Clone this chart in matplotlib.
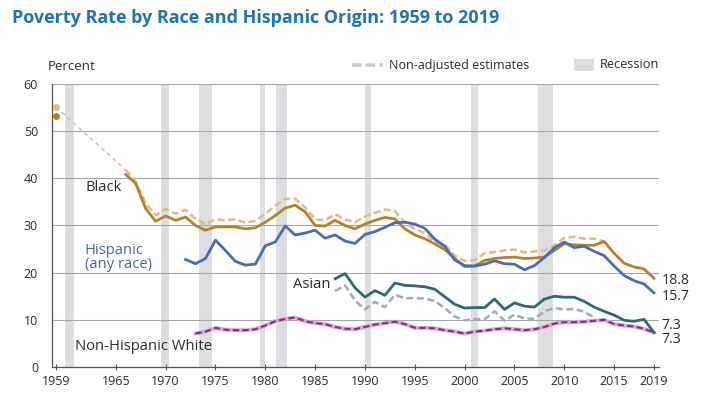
import matplotlib
matplotlib.use("Agg")
import matplotlib.pyplot as plt
from matplotlib.lines import Line2D
from matplotlib.patches import Rectangle

plt.rcParams['font.family'] = ['Open Sans', 'DejaVu Sans']

# --- data ---
black_years = list(range(1966, 2020))
black_adj = [40.8, 38.9, 33.6, 30.9, 32.0, 31.1, 31.8, 30.0, 29.0, 29.7,
             29.7, 29.7, 29.3, 29.5, 30.7, 32.1, 33.7, 34.3, 32.9, 30.0,
             29.9, 31.1, 30.0, 29.3, 30.3, 31.1, 31.7, 31.4, 29.3, 28.0,
             27.2, 26.1, 24.9, 23.0, 21.3, 21.4, 22.6, 23.0, 23.2, 23.3,
             23.0, 23.1, 23.3, 24.7, 26.1, 25.9, 25.8, 25.8, 26.6, 24.1,
             22.0, 21.2, 20.8, 18.8]
black_raw_years = list(range(1966, 2015))
black_raw = [41.8, 39.3, 34.7, 32.2, 33.5, 32.5, 33.3, 31.4, 30.3, 31.3,
             31.1, 31.3, 30.6, 31.0, 32.5, 34.2, 35.6, 35.7, 33.8, 31.3,
             31.1, 32.4, 31.3, 30.7, 31.9, 32.7, 33.4, 33.1, 30.6, 29.3,
             28.4, 26.5, 26.1, 23.6, 22.5, 22.7, 24.1, 24.4, 24.7, 24.9,
             24.3, 24.5, 24.7, 25.8, 27.4, 27.6, 27.2, 27.2, 26.6]
black_1959_adj = 53.3
black_1959_raw = 55.1

hisp_years = list(range(1972, 2020))
hisp = [22.8, 21.9, 23.0, 26.9, 24.7, 22.4, 21.6, 21.8, 25.7, 26.5,
        29.9, 28.0, 28.4, 29.0, 27.3, 28.0, 26.7, 26.2, 28.1, 28.7,
        29.6, 30.6, 30.7, 30.3, 29.4, 27.1, 25.6, 22.7, 21.5, 21.4,
        21.8, 22.5, 21.9, 21.8, 20.6, 21.5, 23.2, 25.3, 26.5, 25.3,
        25.6, 24.5, 23.6, 21.4, 19.4, 18.3, 17.6, 15.7]

asian_years = list(range(1987, 2020))
asian_adj = [18.7, 19.8, 16.8, 14.8, 16.2, 15.2, 17.8, 17.3, 17.2, 17.0,
             16.5, 14.9, 13.3, 12.5, 12.6, 12.6, 14.4, 12.2, 13.6, 12.9,
             12.7, 14.4, 15.0, 14.8, 14.8, 13.9, 12.7, 11.8, 11.0, 9.9,
             9.7, 10.1, 7.3]
asian_raw_years = list(range(1987, 2014))
asian_raw = [16.1, 17.3, 14.1, 12.2, 13.8, 12.7, 15.3, 14.6, 14.6, 14.5,
             14.0, 12.5, 10.7, 9.9, 10.2, 10.1, 11.8, 9.8, 11.1, 10.3,
             10.2, 11.8, 12.5, 12.2, 12.3, 11.7, 10.5]

white_years = list(range(1973, 2020))
white = [7.1, 7.5, 8.3, 7.9, 7.8, 7.8, 8.0, 8.8, 9.7, 10.2,
         10.5, 9.7, 9.3, 9.1, 8.5, 8.1, 8.0, 8.5, 9.0, 9.3,
         9.6, 9.1, 8.3, 8.3, 8.2, 7.8, 7.5, 7.1, 7.5, 7.7,
         8.0, 8.2, 8.0, 7.8, 8.0, 8.5, 9.2, 9.5, 9.5, 9.6,
         9.8, 10.0, 9.1, 8.8, 8.6, 8.1, 7.3]

recessions = [(1959.9, 1960.8), (1969.5, 1970.3), (1973.3, 1974.7),
              (1979.5, 1979.95), (1981.1, 1982.2), (1990.0, 1990.6),
              (2000.6, 2001.3), (2007.4, 2008.9)]

end_labels = ["18.8", "15.7", "7.3", "7.3"]
end_label_y = [18.3, 15.0, 8.8, 5.8]

# --- colours ---
c_black, c_black_l = "#b5822c", "#dfbb86"
c_hisp = "#4a6bbd"
c_asian, c_asian_l = "#2d6b74", "#9eadba"
c_white, c_white_l = "#86307f", "#d9a6d6"
c_text = "#2b2b2b"

fig = plt.figure(figsize=(7.07, 3.95), dpi=100)
ax = fig.add_axes([52 / 707, 28 / 395, 607 / 707, 283 / 395])

for a, b in recessions:
    ax.axvspan(a, b, color="#dcdee1", lw=0, zorder=0)

ax.set_xlim(1958.6, 2019.5)
ax.set_ylim(0, 60)
ax.set_yticks(range(0, 61, 10))
ax.grid(axis="y", color="#a8a8a8", lw=0.8, zorder=1)
ax.set_axisbelow(True)
ax.set_xticks([1959, 1965, 1970, 1975, 1980, 1985, 1990, 1995,
               2000, 2005, 2010, 2015, 2019])
ax.tick_params(axis="y", length=0, pad=10, labelsize=9, labelcolor=c_text)
ax.tick_params(axis="x", direction="inout", length=5, width=0.8,
               color="#555555", pad=3, labelsize=9, labelcolor=c_text)
for s in ["top", "right"]:
    ax.spines[s].set_visible(False)
for s in ["left", "bottom"]:
    ax.spines[s].set_color("#555555")
    ax.spines[s].set_linewidth(0.9)

dash = (2.8, 1.4)
# gap in Black series
ax.plot([1959, 1966], [black_1959_raw, black_raw[0]], color="#b9c0c8",
        lw=1.0, ls=(0, (3, 2.5)), zorder=2)
ax.plot([1959], [black_1959_raw], "o", color=c_black_l, ms=4, zorder=3)
ax.plot([1959], [black_1959_adj], "o", color=c_black, ms=4, zorder=3)

ax.plot(black_raw_years, black_raw, color=c_black_l, lw=1.8,
        dashes=dash, zorder=3)
ax.plot(black_years, black_adj, color=c_black, lw=2.0, zorder=4)

ax.plot(hisp_years, hisp, color=c_hisp, lw=2.0, zorder=4)

ax.plot(asian_raw_years, asian_raw, color=c_asian_l, lw=1.8,
        dashes=dash, zorder=3)
ax.plot(asian_years, asian_adj, color=c_asian, lw=2.0, zorder=4)

ax.plot(white_years, white, color=c_white_l, lw=2.8, zorder=3)
ax.plot(white_years, white, color=c_white, lw=1.5, dashes=(3, 1.6), zorder=4)

# series labels
lab_fs = 10.6
ax.text(1962.0, 38.0, "Black", fontsize=lab_fs, color=c_text, va="center")
ax.text(1961.9, 23.2, "Hispanic\n(any race)", fontsize=lab_fs, color="#4a6591",
        va="center", linespacing=0.95)
ax.text(1982.8, 17.4, "Asian", fontsize=lab_fs, color=c_text, va="center")
ax.text(1960.9, 4.4, "Non-Hispanic White", fontsize=lab_fs, color=c_text,
        va="center")
for lab, yv in zip(end_labels, end_label_y):
    ax.text(2019.75, yv, lab, fontsize=10.2, color=c_text, va="center",
            clip_on=False)

# title and header
fig.text(12 / 707, 1 - 18 / 395, "Poverty Rate by Race and Hispanic Origin: 1959 to 2019",
         fontsize=13, fontweight="bold", color="#1f74b6", va="center")
fig.text(48 / 707, 1 - 67 / 395, "Percent", fontsize=9.5, color=c_text, va="center")

# legend
ly = 1 - 65 / 395
fig.add_artist(Line2D([352 / 707, 383 / 707], [ly, ly], color="#c8ccd2",
                      lw=2.6, dashes=(2.6, 1.2)))
fig.text(389 / 707, ly, "Non-adjusted estimates", fontsize=9, color=c_text,
         va="center")
fig.add_artist(Rectangle((574 / 707, 1 - 71 / 395), 20 / 707, 12 / 395,
                         transform=fig.transFigure, color="#dcdee1", lw=0))
fig.text(600 / 707, ly, "Recession", fontsize=9.2, color=c_text, va="center")

fig.savefig("out.png", dpi=100)
